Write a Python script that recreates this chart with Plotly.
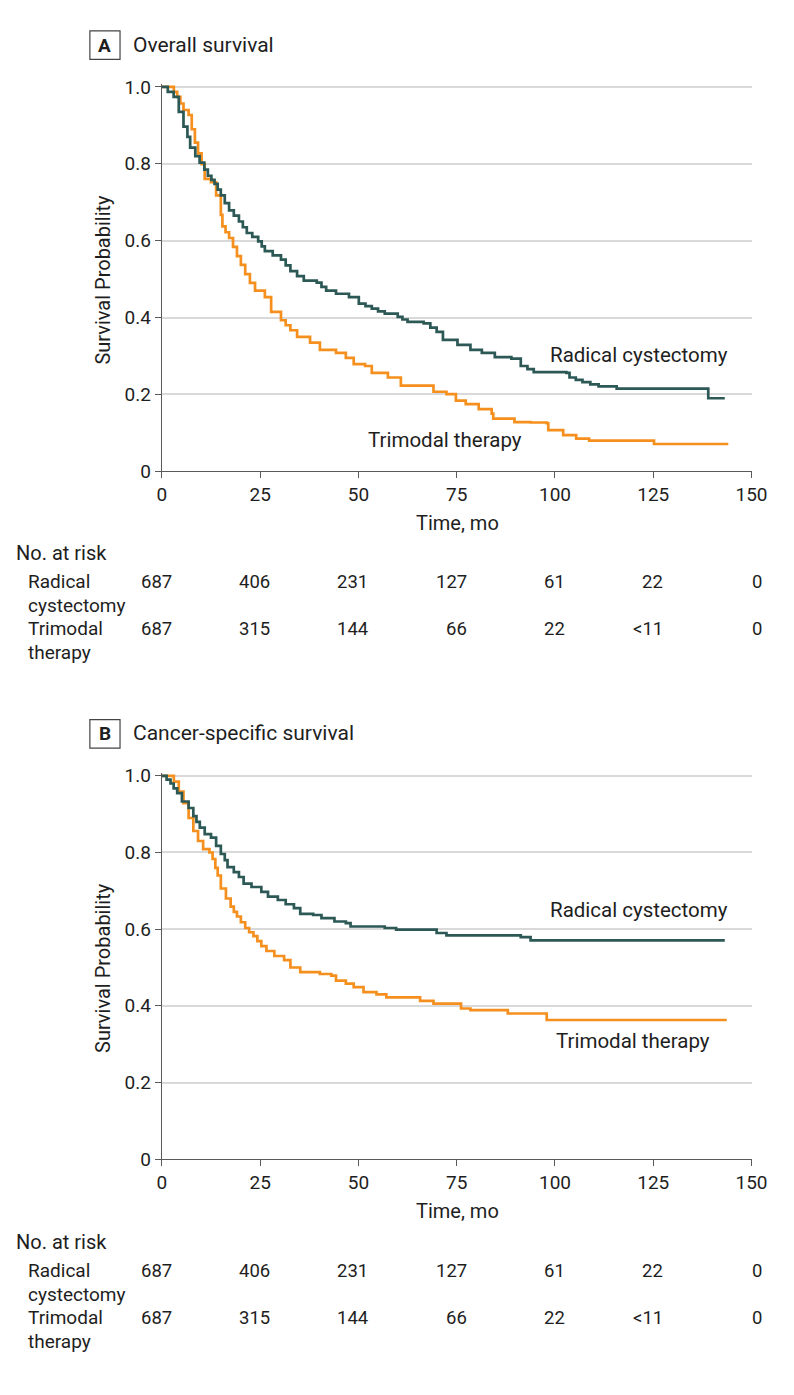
import plotly.graph_objects as go

# page is 794x1395; the browser's default 8px body margin surrounds the figure
PAGE_W, PAGE_H = 794, 1395
M = 8
W, H = PAGE_W - 2 * M, PAGE_H - 2 * M
FONT = "Roboto"
TEAL = "#2c5855"
ORANGE = "#f5901e"
TXT = "#1e1e1e"

# ---------------- data ----------------
# Panel A: Overall survival
a_rc_t = [0, 1.5, 3.0, 4.3, 5.5, 6.5, 7.2, 8.5, 9.6, 10.8, 11.7, 12.6, 13.4, 14.2, 15.0, 16.0, 17.1, 18.3,
          19.6, 20.6, 21.6, 23.0, 24.5, 25.4, 26.2, 28.2, 30.3, 31.5, 32.7, 34.4, 36.1, 39.4, 40.6, 41.8,
          44.3, 47.6, 50.1, 51.8, 53.4, 55.0, 56.7, 60.0, 61.2, 62.5, 66.6, 68.3, 69.9, 71.5, 75.2, 78.5,
          81.4, 84.7, 88.9, 91.3, 93.0, 94.6, 102.9, 103.7, 105.3, 107.0, 109.0, 111.1, 115.7, 139.0, 143.2]
a_rc_s = [1.0, 0.987, 0.974, 0.935, 0.897, 0.870, 0.842, 0.820, 0.803, 0.785, 0.769, 0.758, 0.748, 0.733,
          0.718, 0.698, 0.679, 0.665, 0.650, 0.635, 0.620, 0.610, 0.598, 0.585, 0.573, 0.562, 0.551, 0.536,
          0.521, 0.508, 0.496, 0.491, 0.480, 0.470, 0.462, 0.453, 0.436, 0.430, 0.423, 0.416, 0.410, 0.402,
          0.395, 0.389, 0.385, 0.374, 0.363, 0.342, 0.329, 0.316, 0.308, 0.297, 0.293, 0.274, 0.266, 0.258,
          0.256, 0.244, 0.238, 0.232, 0.226, 0.221, 0.215, 0.190, 0.190]

a_tmt_t = [0, 3.05, 3.9, 4.7, 5.5, 6.8, 7.6, 8.4, 9.2, 10.1, 10.9, 12.5, 13.8, 15.0, 15.4, 16.2, 17.1, 18.1,
           19.1, 20.1, 21.2, 22.4, 23.7, 26.2, 27.8, 30.3, 31.5, 32.7, 34.4, 37.7, 40.2, 44.3, 46.8, 48.8,
           51.7, 53.4, 57.5, 60.8, 69.1, 72.4, 74.8, 77.3, 80.6, 83.9, 84.3, 89.7, 93.8, 97.9, 98.3, 102.1,
           105.4, 108.7, 125.2, 144.1]
a_tmt_s = [1.0, 0.987, 0.974, 0.957, 0.940, 0.927, 0.890, 0.855, 0.827, 0.799, 0.761, 0.752, 0.718, 0.667,
           0.637, 0.622, 0.607, 0.584, 0.560, 0.537, 0.513, 0.490, 0.470, 0.453, 0.415, 0.393, 0.380, 0.367,
           0.350, 0.335, 0.316, 0.308, 0.295, 0.279, 0.274, 0.256, 0.244, 0.223, 0.207, 0.201, 0.184, 0.175,
           0.162, 0.150, 0.137, 0.128, 0.127, 0.125, 0.107, 0.094, 0.085, 0.080, 0.071, 0.071]

# Panel B: Cancer-specific survival
b_rc_t = [0, 1.2, 2.2, 3.0, 3.9, 5.1, 6.8, 8.0, 8.8, 9.65, 10.9, 12.5, 13.8, 15.0, 16.0, 16.7, 18.3, 19.6,
          20.8, 22.8, 25.3, 27.0, 29.5, 31.5, 33.6, 35.2, 38.5, 40.6, 43.9, 46.8, 48.0, 56.7, 59.6, 69.9,
          72.4, 91.3, 93.8, 143.2]
b_rc_s = [1.0, 0.990, 0.980, 0.967, 0.955, 0.933, 0.916, 0.895, 0.880, 0.865, 0.848, 0.839, 0.817, 0.796,
          0.780, 0.762, 0.749, 0.736, 0.719, 0.710, 0.697, 0.685, 0.676, 0.665, 0.655, 0.640, 0.637, 0.629,
          0.620, 0.616, 0.607, 0.603, 0.599, 0.590, 0.584, 0.579, 0.571, 0.571]

b_tmt_t = [0, 3.05, 4.3, 5.5, 6.8, 8.0, 9.2, 10.5, 12.1, 12.9, 13.6, 14.2, 15.0, 16.3, 17.5, 18.3, 19.1,
           20.1, 21.2, 22.2, 23.3, 24.3, 25.3, 26.6, 28.6, 31.1, 32.7, 35.2, 40.2, 43.1, 44.3, 46.8, 48.8,
           51.3, 54.6, 57.1, 65.7, 69.1, 76.1, 78.5, 88.0, 97.9, 143.7]
b_tmt_s = [1.0, 0.985, 0.959, 0.929, 0.890, 0.856, 0.830, 0.809, 0.800, 0.783, 0.760, 0.740, 0.706, 0.680,
           0.659, 0.645, 0.633, 0.618, 0.603, 0.592, 0.582, 0.569, 0.556, 0.543, 0.530, 0.519, 0.500, 0.488,
           0.483, 0.479, 0.466, 0.458, 0.449, 0.436, 0.430, 0.422, 0.413, 0.406, 0.393, 0.389, 0.380, 0.363,
           0.363]

x_ticks = [0, 25, 50, 75, 100, 125, 150]
y_ticks = [0, 0.2, 0.4, 0.6, 0.8, 1.0]
y_ticktext = ["0", "0.2", "0.4", "0.6", "0.8", "1.0"]

panel_letters = ["A", "B"]
panel_titles = ["Overall survival", "Cancer-specific survival"]
group_labels = [["Radical", "cystectomy"], ["Trimodal", "therapy"]]
risk_rc = ["687", "406", "231", "127", "61", "22", "0"]
risk_tmt = ["687", "315", "144", "66", "22", "<11", "0"]
curve_label_names = ["Radical cystectomy", "Trimodal therapy"]
# curve label anchor points (time, survival) per panel: [rc, tmt]
curve_label_pos = [[(121.5, 0.303), (71.9, 0.082)], [(121.5, 0.650), (119.8, 0.308)]]

# ---------------- layout helpers (page pixel -> paper) ----------------
def px(x):
    return (x - M) / W

def py(y):
    return 1 - (y - M) / H

X0, X1 = 161, 767           # page pixel x of t=0 and t=150
panels = [dict(top=80, bottom=470), dict(top=779, bottom=1168)]
YMAX = 1.008

fig = go.Figure()

series = [((a_rc_t, a_rc_s), (a_tmt_t, a_tmt_s)), ((b_rc_t, b_rc_s), (b_tmt_t, b_tmt_s))]

annotations = []
shapes = []
for i, p in enumerate(panels):
    ax = "" if i == 0 else str(i + 1)
    ppu = p["bottom"] - p["top"]
    top_px = p["bottom"] - YMAX * ppu
    (rt, rs), (tt, ts) = series[i]
    fig.add_trace(go.Scatter(x=tt, y=ts, mode="lines", line=dict(color=ORANGE, width=2.7, shape="hv"),
                             xaxis="x" + ax, yaxis="y" + ax, showlegend=False, hoverinfo="skip"))
    fig.add_trace(go.Scatter(x=rt, y=rs, mode="lines", line=dict(color=TEAL, width=2.7, shape="hv"),
                             xaxis="x" + ax, yaxis="y" + ax, showlegend=False, hoverinfo="skip"))
    xa = dict(domain=[px(X0), px(X1)], range=[0, 150], tickvals=x_ticks, showgrid=False,
              showline=True, linecolor="#5a5a5a", linewidth=1.3, ticks="outside", ticklen=6,
              tickcolor="#5a5a5a", tickwidth=1.3, tickfont=dict(family=FONT, size=19, color=TXT),
              zeroline=False, anchor="y" + ax, fixedrange=True)
    ya = dict(domain=[py(p["bottom"]), py(top_px)], range=[0, YMAX], tickvals=y_ticks, ticktext=y_ticktext,
              showgrid=True, gridcolor="#d9d9d9", gridwidth=1.6, showline=True, linecolor="#5a5a5a",
              linewidth=1.3, ticks="outside", ticklen=6, tickcolor="#5a5a5a", tickwidth=1.3,
              tickfont=dict(family=FONT, size=19, color=TXT), zeroline=False, anchor="x" + ax,
              fixedrange=True)
    fig.update_layout(**{"xaxis" + ax: xa, "yaxis" + ax: ya})

    off = 0 if i == 0 else 699
    # panel header box + letter + title
    shapes.append(dict(type="rect", xref="paper", yref="paper", x0=px(87), x1=px(118),
                       y0=py(23 + off), y1=py(52 + off), line=dict(color="#444", width=1.2)))
    annotations.append(dict(text="<b>%s</b>" % panel_letters[i], xref="paper", yref="paper",
                            x=px(102.5), y=py(37.5 + off), showarrow=False, xanchor="center",
                            yanchor="middle", font=dict(family=FONT, size=19, color=TXT)))
    annotations.append(dict(text=panel_titles[i], xref="paper", yref="paper", x=px(129), y=py(37 + off),
                            showarrow=False, xanchor="left", yanchor="middle",
                            font=dict(family=FONT, size=21, color=TXT)))
    # axis titles
    annotations.append(dict(text="Survival Probability", xref="paper", yref="paper", x=px(101),
                            y=py((p["top"] + p["bottom"]) / 2), textangle=-90, showarrow=False,
                            xanchor="center", yanchor="middle", font=dict(family=FONT, size=20, color=TXT)))
    annotations.append(dict(text="Time, mo", xref="paper", yref="paper", x=px(465), y=py(522 + off),
                            showarrow=False, xanchor="center", yanchor="middle",
                            font=dict(family=FONT, size=20, color=TXT)))
    # curve labels
    for name, (lt, ls) in zip(curve_label_names, curve_label_pos[i]):
        annotations.append(dict(text=name, xref="x" + ax, yref="y" + ax, x=lt, y=ls, showarrow=False,
                                xanchor="center", yanchor="middle", font=dict(family=FONT, size=20.5, color=TXT)))
    # risk table
    annotations.append(dict(text="No. at risk", xref="paper", yref="paper", x=px(9), y=py(553 + off),
                            showarrow=False, xanchor="left", yanchor="middle",
                            font=dict(family=FONT, size=20, color=TXT)))
    row_y = [582 + off, 630 + off]
    for g, (lbl, counts) in enumerate(zip(group_labels, [risk_rc, risk_tmt])):
        annotations.append(dict(text=lbl[0], xref="paper", yref="paper", x=px(21), y=py(row_y[g]),
                                showarrow=False, xanchor="left", yanchor="middle",
                                font=dict(family=FONT, size=19, color=TXT)))
        annotations.append(dict(text=lbl[1], xref="paper", yref="paper", x=px(21), y=py(row_y[g] + 24),
                                showarrow=False, xanchor="left", yanchor="middle",
                                font=dict(family=FONT, size=19, color=TXT)))
        for tv, c in zip(x_ticks, counts):
            annotations.append(dict(text=c, xref="x" + ax, yref="paper", x=tv, y=py(row_y[g]),
                                    xshift=12, showarrow=False, xanchor="right", yanchor="middle",
                                    font=dict(family=FONT, size=18.5, color=TXT)))

fig.update_layout(width=W, height=H, margin=dict(l=0, r=0, t=0, b=0), paper_bgcolor="white",
                  plot_bgcolor="white", annotations=annotations, shapes=shapes, showlegend=False)

fig.write_html("out.html", config={"displayModeBar": False})
